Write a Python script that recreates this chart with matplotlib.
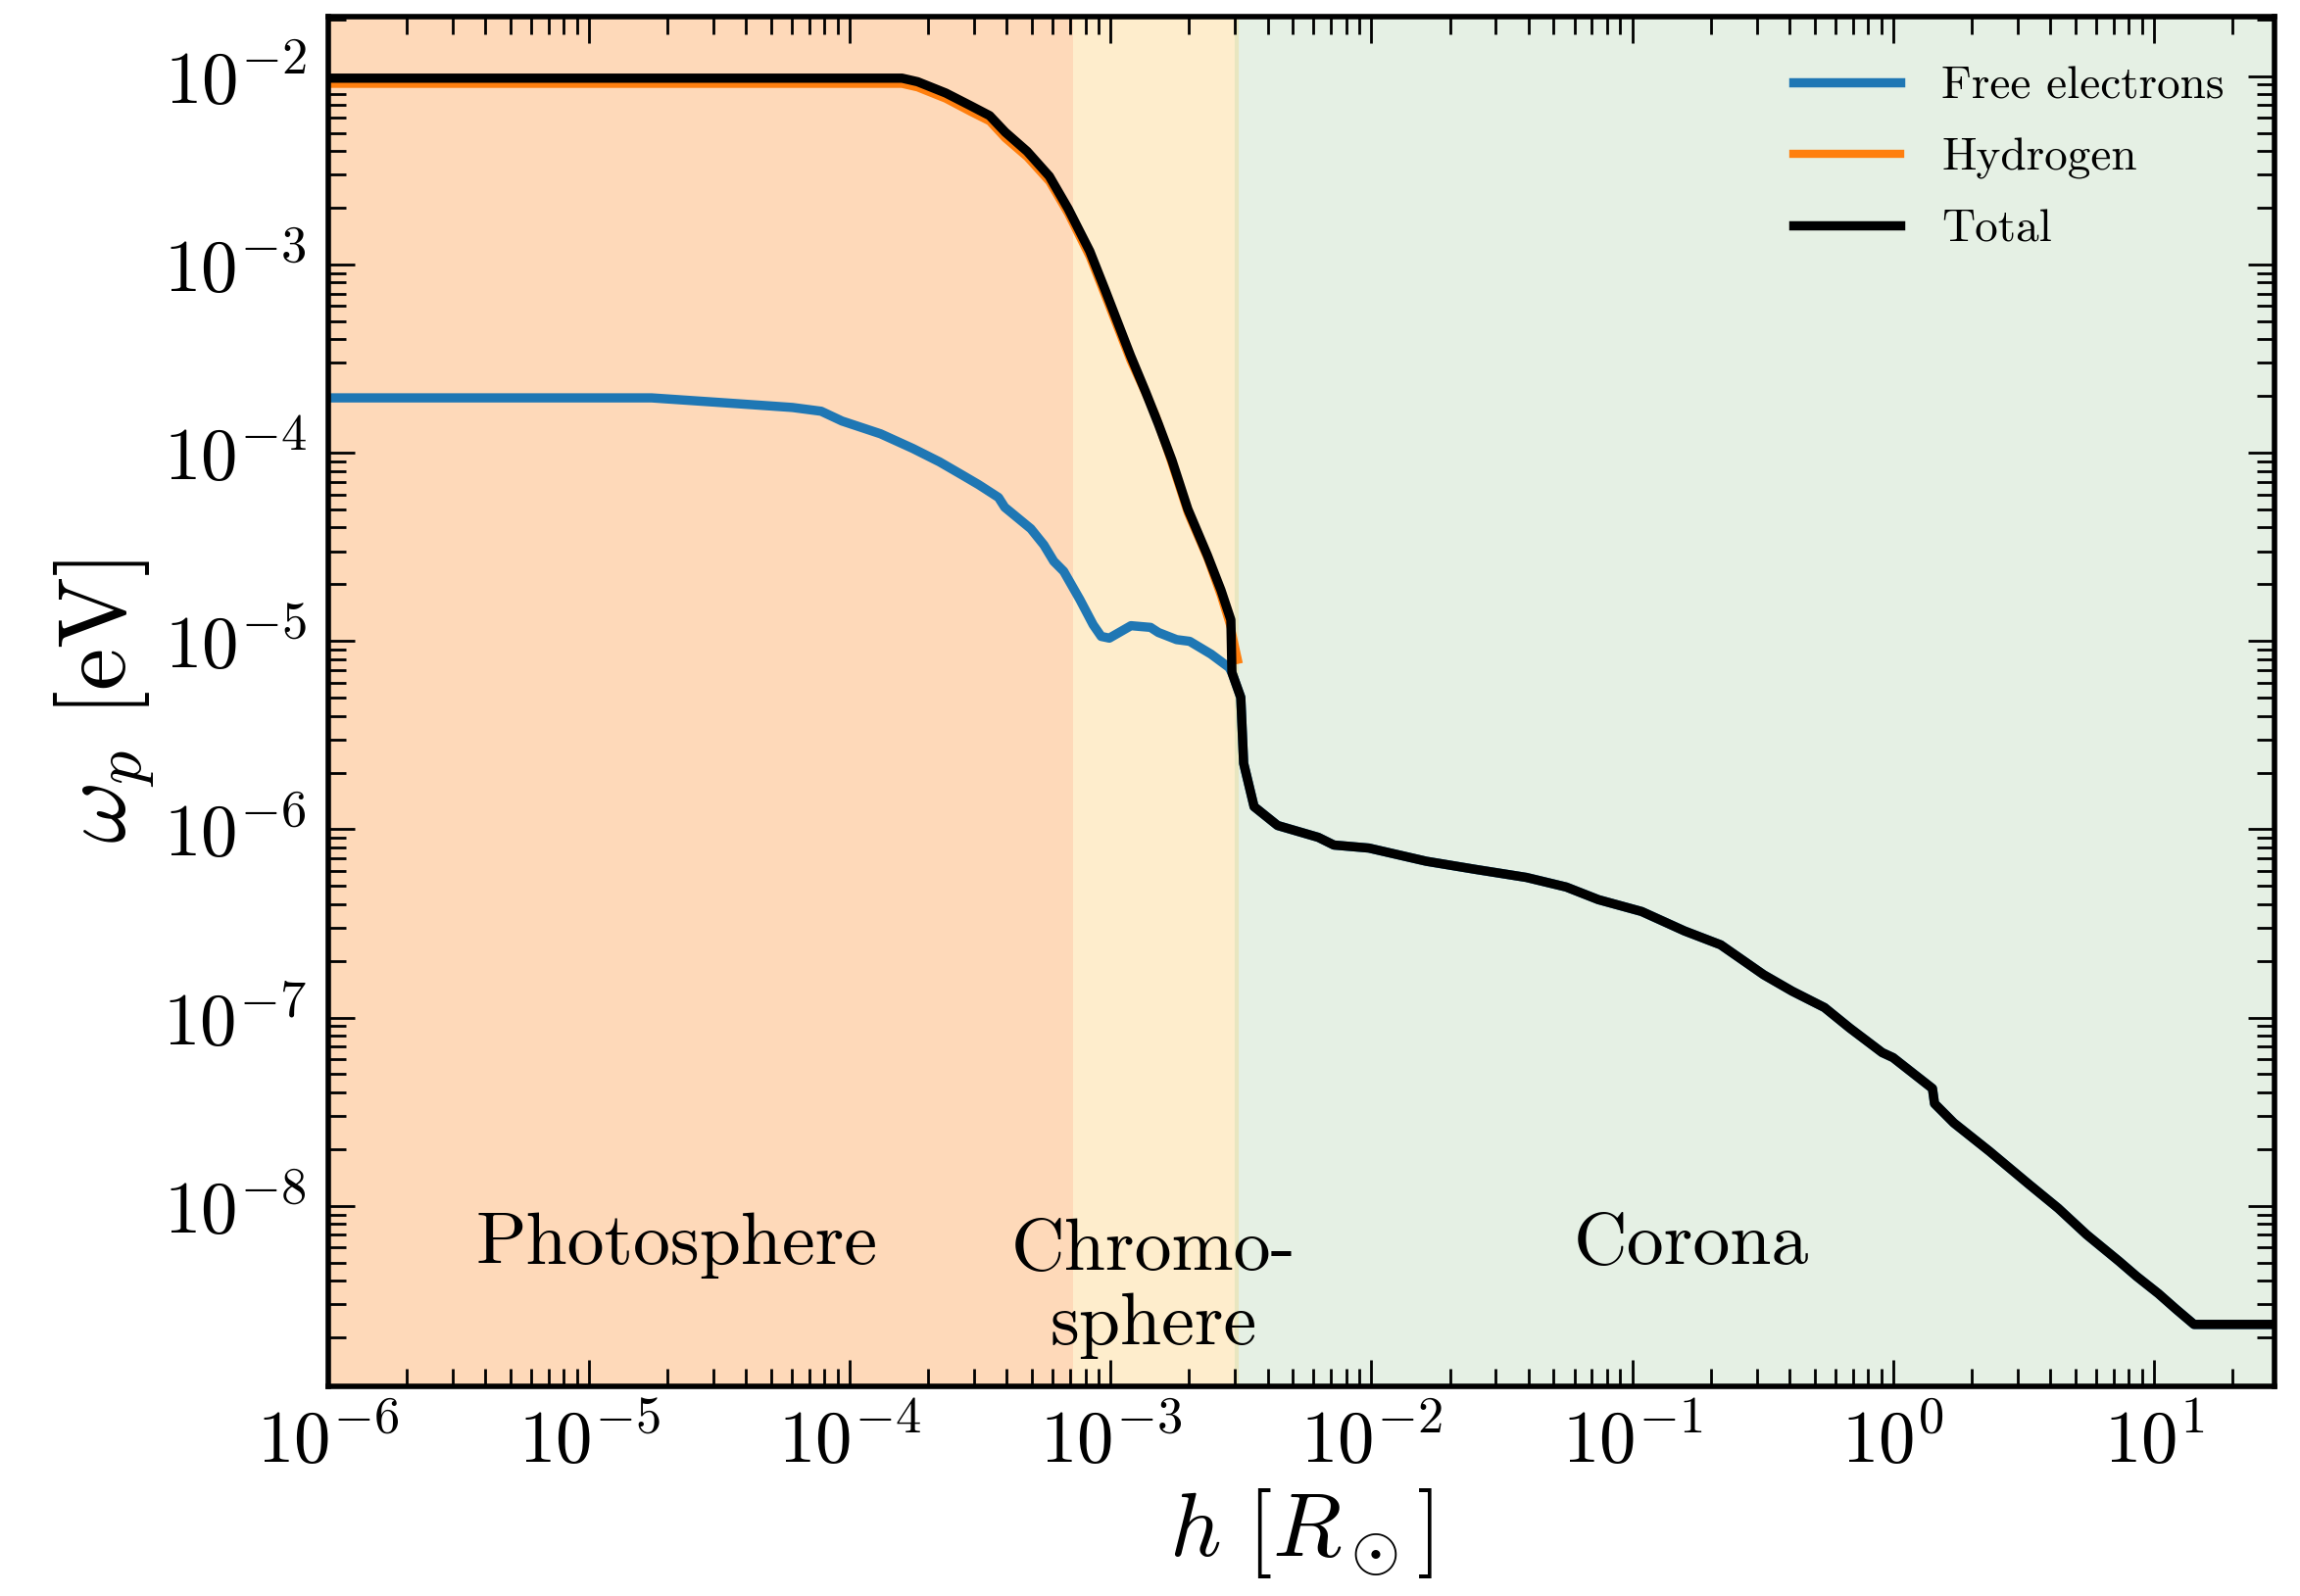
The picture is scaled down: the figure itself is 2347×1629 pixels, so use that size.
import numpy as np
import matplotlib
matplotlib.use("Agg")
import matplotlib.pyplot as plt
from matplotlib.ticker import LogLocator, NullFormatter

plt.rcParams["font.family"] = "serif"
plt.rcParams["font.serif"] = ["cmr10", "DejaVu Serif"]
plt.rcParams["mathtext.fontset"] = "cm"
plt.rcParams["axes.formatter.use_mathtext"] = True
plt.rcParams["axes.unicode_minus"] = False

# values, stored as log10(h / R_sun) and log10(omega_p / eV)
total_logh = [-6.0, -3.80, -3.74, -3.632, -3.536, -3.464, -3.404, -3.32, -3.235,
              -3.163, -3.08, -3.02, -2.924, -2.866, -2.817, -2.765, -2.704, -2.629,
              -2.577, -2.539, -2.535, -2.501, -2.49, -2.45, -2.36, -2.204, -2.144,
              -2.01, -1.79, -1.598, -1.406, -1.253, -1.13, -0.964, -0.80, -0.661,
              -0.496, -0.387, -0.263, -0.166, -0.042, 0.0, 0.151, 0.159, 0.233,
              0.37, 0.522, 0.633, 0.742, 0.866, 0.934, 1.017, 1.085, 1.154, 1.47]
total_logw = [-2.011, -2.011, -2.03, -2.09, -2.158, -2.21, -2.298, -2.40, -2.532,
              -2.704, -2.93, -3.14, -3.484, -3.677, -3.848, -4.04, -4.30, -4.545,
              -4.73, -4.888, -5.168, -5.30, -5.65, -5.88, -5.98, -6.043, -6.084,
              -6.10, -6.17, -6.214, -6.256, -6.307, -6.374, -6.437, -6.54, -6.614,
              -6.773, -6.86, -6.947, -7.056, -7.186, -7.213, -7.377, -7.457, -7.56,
              -7.711, -7.887, -8.013, -8.153, -8.294, -8.375, -8.466, -8.549, -8.63, -8.63]

hydrogen_logh = [-6.0, -3.80, -3.74, -3.632, -3.536, -3.464, -3.404, -3.32, -3.235,
                 -3.163, -3.08, -3.02, -2.924, -2.828, -2.765, -2.704, -2.629, -2.577,
                 -2.539, -2.512]
hydrogen_logw = [-2.041, -2.041, -2.06, -2.12, -2.19, -2.24, -2.33, -2.43, -2.56,
                 -2.73, -2.96, -3.17, -3.51, -3.80, -4.06, -4.32, -4.56, -4.76,
                 -4.93, -5.10]

# free electrons: below the total in photosphere/chromosphere, equal to it in the corona
electron_logh = [-6.0, -4.76, -4.461, -4.22, -4.11, -4.03, -3.882, -3.758, -3.656,
                 -3.57, -3.506, -3.43, -3.406, -3.306, -3.256, -3.218, -3.18, -3.118,
                 -3.067, -3.036, -3.005, -2.922, -2.847, -2.817, -2.747, -2.697,
                 -2.615, -2.546, -2.535, -2.501, -2.49, -2.45, -2.36, -2.204, -2.144,
                 -2.01, -1.79, -1.598, -1.406, -1.253, -1.13, -0.964, -0.80, -0.661,
                 -0.496, -0.387, -0.263, -0.166, -0.042, 0.0, 0.151, 0.159, 0.233,
                 0.37, 0.522, 0.633, 0.742, 0.866, 0.934, 1.017, 1.085, 1.154, 1.47]
electron_logw = [-3.709, -3.709, -3.737, -3.76, -3.78, -3.832, -3.90, -3.978, -4.049,
                 -4.118, -4.17, -4.238, -4.29, -4.404, -4.49, -4.577, -4.63, -4.78,
                 -4.914, -4.976, -4.985, -4.919, -4.928, -4.955, -4.993, -5.002,
                 -5.07, -5.141, -5.168, -5.30, -5.65, -5.88, -5.98, -6.043, -6.084,
                 -6.10, -6.17, -6.214, -6.256, -6.307, -6.374, -6.437, -6.54, -6.614,
                 -6.773, -6.86, -6.947, -7.056, -7.186, -7.213, -7.377, -7.457, -7.56,
                 -7.711, -7.887, -8.013, -8.153, -8.294, -8.375, -8.466, -8.549, -8.63, -8.63]

# layer boundaries in R_sun
photo_end = 7.2e-4
chromo_end = 3.05e-3
x_lim = (1e-6, 29.0)
y_lim = (1.1e-9, 2.07e-2)


def main():
    fig = plt.figure(figsize=(11.735, 8.145), dpi=200)
    ax = fig.add_axes([0.1427, 0.1314, 0.8462, 0.8582])

    ax.axvspan(x_lim[0], photo_end, color="#fed9b9", lw=0, zorder=0)
    ax.axvspan(photo_end, chromo_end, color="#feedcc", lw=0, zorder=0)
    ax.axvspan(chromo_end, x_lim[1], color="#e5f0e4", lw=0, zorder=0)
    ax.axvline(chromo_end, color="#e8e6c0", lw=1.5, zorder=0.5)

    ax.plot(10 ** np.array(electron_logh), 10 ** np.array(electron_logw),
            color="#1f77b4", lw=3.4, label="Free electrons", zorder=2)
    ax.plot(10 ** np.array(hydrogen_logh), 10 ** np.array(hydrogen_logw),
            color="#ff7f0e", lw=3.0, label="Hydrogen", zorder=2)
    ax.plot(10 ** np.array(total_logh), 10 ** np.array(total_logw),
            color="black", lw=3.4, label="Total", zorder=3)

    ax.set_xscale("log")
    ax.set_yscale("log")
    ax.set_xlim(*x_lim)
    ax.set_ylim(*y_lim)

    for axis in (ax.xaxis, ax.yaxis):
        axis.set_major_locator(LogLocator(base=10, numticks=100))
        axis.set_minor_locator(LogLocator(base=10, subs=np.arange(2, 10), numticks=100))
        axis.set_minor_formatter(NullFormatter())

    ax.tick_params(which="both", direction="in", top=True, right=True)
    ax.tick_params(which="major", length=9.7, width=1.0, labelsize=27, pad=8)
    ax.tick_params(which="minor", length=6.5, width=1.0)
    for sp in ax.spines.values():
        sp.set_linewidth(2.0)

    ax.set_xlabel(r"$h\ [R_\odot]$", fontsize=33, labelpad=3)
    ax.set_ylabel(r"$\omega_p\ [\mathrm{eV}]$", fontsize=35, labelpad=2)

    ax.text(2.16e-5, 10 ** -8.21, "Photosphere", fontsize=27.3, ha="center", va="center")
    ax.text(1.46e-3, 10 ** -8.44, "Chromo-\nsphere", fontsize=27.3, ha="center",
            va="center", linespacing=1.15)
    ax.text(0.168, 10 ** -8.21, "Corona", fontsize=27.3, ha="center", va="center")

    ax.legend(loc="upper right", frameon=False, fontsize=17, handlelength=2.3,
              handletextpad=0.9, labelspacing=0.65, borderaxespad=0.68)

    fig.savefig("out.png", dpi=200)
    plt.close(fig)


if __name__ == "__main__":
    main()
